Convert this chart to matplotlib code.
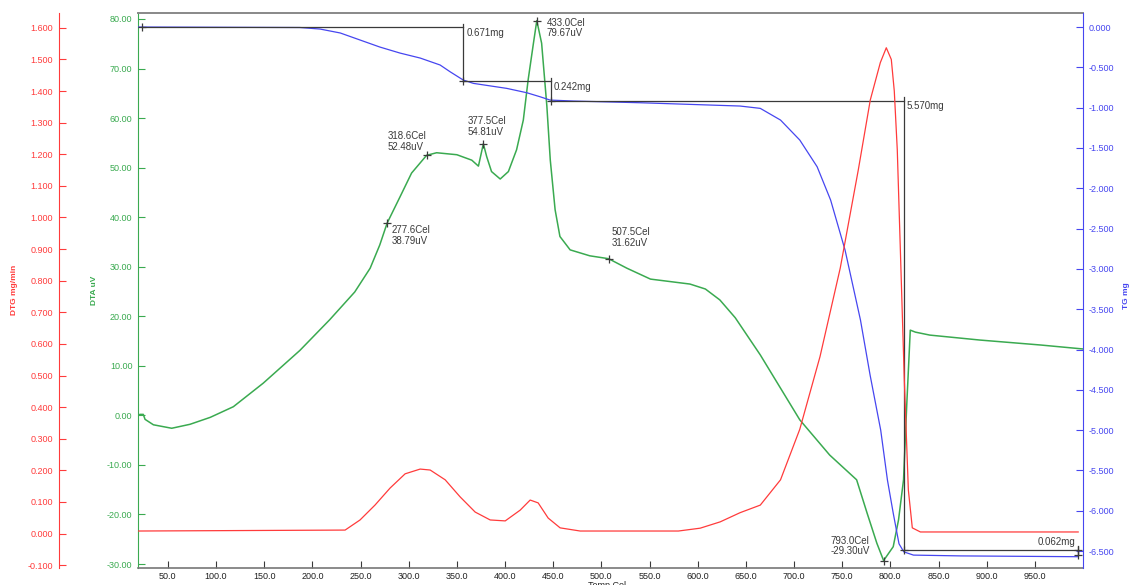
import numpy as np
import matplotlib
matplotlib.use('Agg')
import matplotlib.pyplot as plt
from matplotlib.ticker import FormatStrFormatter, MultipleLocator

plt.rcParams['font.family'] = ['Liberation Sans', 'DejaVu Sans']
plt.rcParams['axes.unicode_minus'] = False

# DTA curve (uV)
dta_t = [19, 21, 24.5, 26.3, 35, 54, 73, 94, 118, 149, 187, 218, 244, 260, 270, 277.6,
         291, 303, 318.6, 329, 350, 365.5, 372.4, 377.5, 381, 386, 395, 403.5, 412, 419,
         424, 429.5, 433.0, 438, 443.4, 447, 452, 457, 467.6, 488, 507.5, 526.5, 551,
         592, 608, 623, 639, 665, 706, 737, 765, 776, 786, 793.0, 803, 808.5, 813.7,
         817, 820.7, 826, 841, 893, 956, 1000]
dta_v = [0.0, 0.2, 0.2, -0.8, -1.9, -2.6, -1.8, -0.4, 1.75, 6.5, 13.1, 19.3, 24.9, 29.7,
         34.4, 38.79, 44.1, 48.9, 52.48, 53.0, 52.6, 51.5, 50.3, 54.81, 52.2, 49.2, 47.7,
         49.2, 53.6, 59.6, 67.7, 75.1, 79.67, 75.1, 62.5, 51.5, 41.5, 36.1, 33.4, 32.2,
         31.62, 29.7, 27.5, 26.5, 25.5, 23.3, 19.7, 12.2, -0.9, -8.0, -13.0, -19.8, -25.8,
         -29.30, -26.5, -21.1, -13.0, 2.0, 17.2, 16.8, 16.2, 15.2, 14.2, 13.4]

# DTG curve (mg/min)
dtg_t = [19, 234, 249.5, 265, 280.7, 296.3, 311.9, 322.3, 337.9, 353.4, 369, 384.6, 400.2,
         415.7, 426.1, 434.4, 444.8, 457.2, 478, 580, 602.6, 623.4, 644, 665, 686, 706,
         727, 748, 766.7, 779.2, 789.6, 795.8, 801, 804.1, 807.2, 810.4, 814.5, 818.7,
         822.8, 831.2, 995]
dtg_v = [0.008, 0.011, 0.043, 0.09, 0.144, 0.189, 0.204, 0.201, 0.17, 0.116, 0.068, 0.043,
         0.04, 0.074, 0.106, 0.097, 0.049, 0.018, 0.008, 0.008, 0.017, 0.037, 0.066, 0.09,
         0.17, 0.33, 0.56, 0.84, 1.15, 1.372, 1.49, 1.537, 1.5, 1.40, 1.214, 0.897, 0.486,
         0.138, 0.018, 0.005, 0.005]

# TG curve (mg)
tg_t = [19, 187, 208, 229, 249.5, 270, 291, 312, 332.6, 343, 356.7, 367.2, 401.8, 422.6,
        436.4, 446.8, 471, 540, 644, 665, 686, 706, 724, 738, 753, 769, 779, 790, 797,
        803, 809, 814, 824, 873, 995]
tg_v = [0.0, -0.006, -0.025, -0.074, -0.161, -0.248, -0.323, -0.385, -0.471, -0.555, -0.658,
        -0.699, -0.761, -0.815, -0.865, -0.906, -0.918, -0.939, -0.98, -1.009, -1.154,
        -1.402, -1.733, -2.146, -2.767, -3.635, -4.318, -5.0, -5.62, -6.03, -6.41, -6.51,
        -6.55, -6.56, -6.57]

# peak annotations on DTA
peak_t = [277.6, 318.6, 377.5, 433.0, 507.5, 793.0]
peak_v = [38.79, 52.48, 54.81, 79.67, 31.62, -29.30]
peak_off = [(3, -1.5), (-28, 17.3), (-11.5, 20.2), (7.2, 2.2), (2.2, 23), (-38, 18)]

# TG mass steps
step_t = [22.8, 356.7, 447.8, 813.7, 995.1]
step_g = [0.0, -0.671, -0.913, -6.483, -6.545]
step_lbl = ['0.671mg', '0.242mg', '5.570mg', '0.062mg']

green = '#3aaa50'
red = '#ff3b3b'
blue = '#4646f0'
dark = '#3a3a3a'

fig = plt.figure(figsize=(11.32, 5.85), dpi=100)
ax = fig.add_axes([138 / 1132, 17 / 585, 945 / 1132, 555 / 585])
ax_tg = ax.twinx()
ax_dtg = ax.twinx()

ax.plot(dta_t, dta_v, color=green, lw=1.1, zorder=3)
ax_dtg.plot(dtg_t, dtg_v, color=red, lw=0.9)
ax_tg.plot(tg_t, tg_v, color=blue, lw=0.9)

ax.set_xlim(19, 1000)
ax.set_ylim(-30.8, 81.2)
ax_dtg.set_ylim(-0.109, 1.647)
ax_tg.set_ylim(-6.71, 0.174)

# axis styling
ax.set_xticks(np.arange(50, 951, 50))
ax.xaxis.set_major_formatter(FormatStrFormatter('%.1f'))
ax.yaxis.set_major_locator(MultipleLocator(10))
ax.yaxis.set_major_formatter(FormatStrFormatter('%.2f'))
ax_dtg.yaxis.set_major_locator(MultipleLocator(0.1))
ax_dtg.yaxis.set_major_formatter(FormatStrFormatter('%.3f'))
ax_tg.yaxis.set_major_locator(MultipleLocator(0.5))
ax_tg.yaxis.set_major_formatter(FormatStrFormatter('%.3f'))

ax.tick_params(axis='x', direction='in', length=5, width=0.8, color=dark,
               labelcolor='#222222', labelsize=6.5, pad=3)
ax.tick_params(axis='y', direction='in', length=5, width=0.8, color=green,
               labelcolor=green, labelsize=6.5, pad=4)
ax_tg.tick_params(axis='y', direction='in', length=5, width=0.8, color=blue,
                  labelcolor=blue, labelsize=6.5, pad=4)

ax_dtg.spines['right'].set_visible(False)
ax_dtg.spines['left'].set_visible(True)
ax_dtg.spines['left'].set_position(('outward', 57))
ax_dtg.spines['left'].set_color(red)
ax_dtg.yaxis.set_ticks_position('left')
ax_dtg.tick_params(axis='y', direction='in', length=5, width=0.8, color=red,
                   labelcolor=red, labelsize=6.5, pad=4)
for a in (ax_dtg, ax_tg):
    a.spines['top'].set_visible(False)
    a.spines['bottom'].set_visible(False)
ax_tg.spines['left'].set_visible(False)
ax_tg.spines['right'].set_color(blue)
ax.spines['left'].set_color(green)
ax.spines['right'].set_visible(False)
ax.spines['top'].set_color('#888888')
ax.spines['top'].set_linewidth(1.4)
ax.spines['bottom'].set_color('#777777')
ax.spines['bottom'].set_linewidth(1.2)

# TG step lines
for i in range(len(step_lbl)):
    t0, t1 = step_t[i], step_t[i + 1]
    g0, g1 = step_g[i], step_g[i + 1]
    ax_tg.plot([t0, t1], [g0, g0], color=dark, lw=0.9)
    ax_tg.plot([t1, t1], [g0 + 0.04, g1], color=dark, lw=0.9)
    ax_tg.plot([t1], [g1], marker='+', ms=6, mew=0.9, color=dark)
    if i == len(step_lbl) - 1:
        ax_tg.text(t1 - 3, g0 + 0.03, step_lbl[i], fontsize=7, color=dark,
                   ha='right', va='bottom')
    else:
        ax_tg.text(t1 + 3, g0 - 0.07, step_lbl[i], fontsize=7, color=dark,
                   ha='left', va='center')
ax_tg.plot([step_t[0]], [step_g[0]], marker='+', ms=6, mew=0.9, color=dark)
ax_tg.plot([step_t[-1]], [step_g[-2]], marker='+', ms=6, mew=0.9, color=dark)

# DTA peak markers
for t, v, (dx, dy) in zip(peak_t, peak_v, peak_off):
    ax.plot([t], [v], marker='+', ms=6, mew=0.9, color=dark, zorder=4)
    ax.annotate('%.1fCel\n%.2fuV' % (t, v), (t, v), xytext=(dx, dy),
                textcoords='offset points', fontsize=7, color=dark,
                ha='left', va='top', linespacing=1.1)

fig.text(15 / 1132, 1 - 290 / 585, 'DTG mg/min', rotation=90, color=red,
         fontsize=6, fontweight='bold', ha='center', va='center')
fig.text(95 / 1132, 1 - 290 / 585, 'DTA uV', rotation=90, color=green,
         fontsize=6, fontweight='bold', ha='center', va='center')
fig.text(1127 / 1132, 1 - 296 / 585, 'TG mg', rotation=90, color=blue,
         fontsize=6, fontweight='bold', ha='center', va='center')
fig.text(607 / 1132, 0.0, 'Temp Cel', color='#222222', fontsize=6.5,
         ha='center', va='center')

fig.savefig('out.png', dpi=100)
